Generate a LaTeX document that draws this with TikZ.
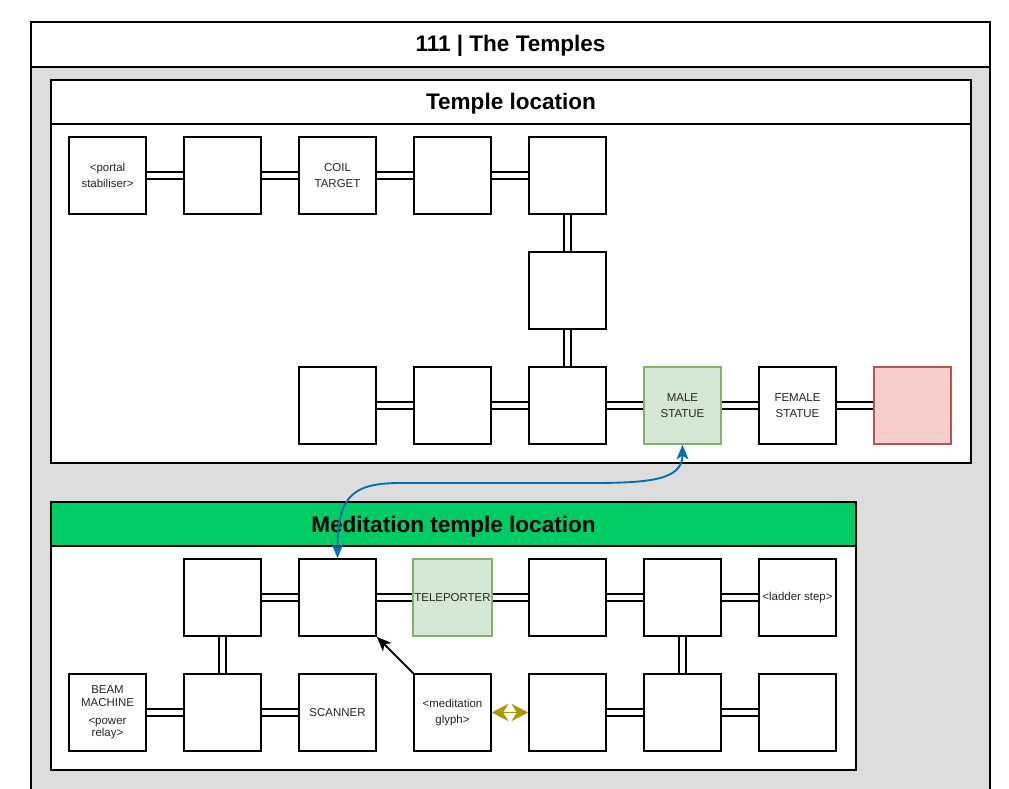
\documentclass[tikz,border=0pt]{standalone}
\usepackage{fontspec}
\setmainfont{Liberation Sans}
\usetikzlibrary{arrows.meta}
\pgfdeclarelayer{back}
\pgfsetlayers{back,main}

\definecolor{panelgray}{RGB}{221,221,221}
\definecolor{medgreen}{RGB}{0,204,102}
\definecolor{statuefill}{RGB}{213,232,212}
\definecolor{statuedraw}{RGB}{130,179,102}
\definecolor{lockfill}{RGB}{248,206,204}
\definecolor{lockdraw}{RGB}{184,84,80}
\definecolor{warpblue}{RGB}{0,110,175}
\definecolor{glyphgold}{RGB}{176,149,0}

\tikzset{
  room/.style={draw=black, line width=1.25pt, fill=white, minimum width=57.75pt, minimum height=57.75pt,
    inner sep=1pt, align=center, text=black!85, font=\fontsize{8.6}{11.6}\selectfont},
  statue/.style={room, draw=statuedraw, fill=statuefill},
  sealed/.style={room, draw=lockdraw, fill=lockfill},
  link/.style={draw=black, line width=1.25pt, double=white, double distance=3.6pt},
  frame/.style={draw=black, line width=1.25pt},
  heading/.style={anchor=base, font=\bfseries\fontsize{16.9}{20}\selectfont},
}

\begin{document}
\begin{tikzpicture}[x=0.75pt,y=0.75pt,yscale=-1,xscale=1]
\useasboundingbox (0,0) rectangle (1009,788);

%Shape: Swimlane [id:outer]
\begin{pgfonlayer}{back}
\fill[white] (0,0) rectangle (1009,788);
\draw[frame, fill=panelgray] (31,22) rectangle (990,800);
\draw[frame, fill=white] (31,22) rectangle (990,67);
%Shape: Swimlane [id:temple]
\draw[frame, fill=white] (51,80) rectangle (971,463);
\draw[frame] (51,124) -- (971,124);
%Shape: Swimlane [id:meditation]
\draw[frame, fill=white] (51,502) rectangle (856,770);
\draw[frame, fill=medgreen] (51,502) rectangle (856,546);
\end{pgfonlayer}

% Text Node
\node[heading] (title) at (510.5,52) {111 | The Temples};
% Text Node
\node[heading] (templehead) at (511,110) {Temple location};
% Text Node
\node[heading] (medhead) at (453.5,532) {Meditation temple location};

%Rooms: temple location
\node[room] (ta0) at (107.5,175.5) {<portal\\stabiliser>};
\node[room] (ta1) at (222.5,175.5) {};
\node[room] (ta2) at (337.5,175.5) {COIL\\TARGET};
\node[room] (ta3) at (452.5,175.5) {};
\node[room] (ta4) at (567.5,175.5) {};
\node[room] (tb4) at (567.5,290.5) {};
\node[room] (tc2) at (337.5,405.5) {};
\node[room] (tc3) at (452.5,405.5) {};
\node[room] (tc4) at (567.5,405.5) {};
\node[statue] (tc5) at (682.5,405.5) {MALE\\STATUE};
\node[room] (tc6) at (797.5,405.5) {FEMALE\\STATUE};
\node[sealed] (tc7) at (912.5,405.5) {};

%Rooms: meditation temple location
\node[room] (ma1) at (222.5,597.5) {};
\node[room] (ma2) at (337.5,597.5) {};
\node[statue] (ma3) at (452.5,597.5) {TELEPORTER};
\node[room] (ma4) at (567.5,597.5) {};
\node[room] (ma5) at (682.5,597.5) {};
\node[room] (ma6) at (797.5,597.5) {<ladder step>};
\node[room, font=\fontsize{8.6}{9.3}\selectfont] (mb0) at (107.5,712.5) {BEAM\\MACHINE\\[4pt]<power\\relay>};
\node[room] (mb1) at (222.5,712.5) {};
\node[room] (mb2) at (337.5,712.5) {SCANNER};
\node[room] (mb3) at (452.5,712.5) {<meditation\\glyph>};
\node[room] (mb4) at (567.5,712.5) {};
\node[room] (mb5) at (682.5,712.5) {};
\node[room] (mb6) at (797.5,712.5) {};

%Links
\begin{pgfonlayer}{back}
\draw[link] (ta0) -- (ta1);
\draw[link] (ta1) -- (ta2);
\draw[link] (ta2) -- (ta3);
\draw[link] (ta3) -- (ta4);
\draw[link] (ta4) -- (tb4);
\draw[link] (tb4) -- (tc4);
\draw[link] (tc2) -- (tc3);
\draw[link] (tc3) -- (tc4);
\draw[link] (tc4) -- (tc5);
\draw[link] (tc5) -- (tc6);
\draw[link] (tc6) -- (tc7);
\draw[link] (ma1) -- (ma2);
\draw[link] (ma2) -- (ma3);
\draw[link] (ma3) -- (ma4);
\draw[link] (ma4) -- (ma5);
\draw[link] (ma5) -- (ma6);
\draw[link] (ma1) -- (mb1);
\draw[link] (ma5) -- (mb5);
\draw[link] (mb0) -- (mb1);
\draw[link] (mb1) -- (mb2);
\draw[link] (mb4) -- (mb5);
\draw[link] (mb5) -- (mb6);
\end{pgfonlayer}

%Curve Lines: statue warp
\draw[color=warpblue, line width=1.4pt, {Stealth[length=11pt,width=9pt,inset=3pt]}-{Stealth[length=11pt,width=9pt,inset=3pt]}]
  (tc5.south) .. controls (682.5,480) and (650,483) .. (590,483) -- (400,483)
  .. controls (352,483) and (337.5,497) .. (ma2.north);
%Straight Lines: glyph pointer
\draw[line width=1.4pt, -{Stealth[length=11pt,width=9pt,inset=3pt]}] (mb3.north west) -- (ma2.south east);
%Straight Lines: glyph swap
\draw[color=glyphgold, line width=1.4pt, {Stealth[length=12.5pt,width=13pt]}-{Stealth[length=12.5pt,width=13pt]}] (mb3.east) -- (mb4.west);

\end{tikzpicture}
\end{document}
